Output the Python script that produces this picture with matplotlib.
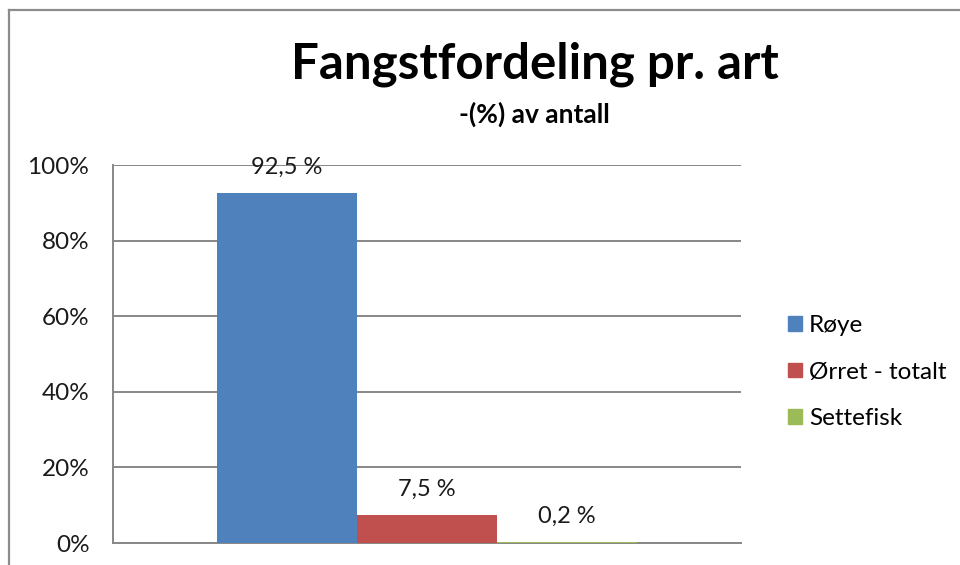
import matplotlib.pyplot as plt
from matplotlib.patches import Rectangle
from matplotlib.lines import Line2D

plt.rcParams['font.family'] = ['Lato', 'DejaVu Sans']

# Data
arter = ['Røye', 'Ørret - totalt', 'Settefisk']
andel = [92.5, 7.5, 0.2]
etiketter = ['92,5 %', '7,5 %', '0,2 %']
farger = ['#4F81BD', '#C0504D', '#9BBB59']
yticks = [0, 20, 40, 60, 80, 100]

fig = plt.figure(figsize=(9.6, 5.65), dpi=100)

# ramme rundt diagrammet
fig.add_artist(Line2D([9/960, 9/960], [0, 1 - 10/565], color='#8c8c8c', lw=1.6))
fig.add_artist(Line2D([9/960, 1], [1 - 10/565, 1 - 10/565], color='#8c8c8c', lw=1.6))

ax = fig.add_axes([113/960, 22/565, 628/960, 378/565])

x = list(range(len(arter)))
ax.bar(x, andel, width=1.0, color=farger, zorder=3)

for xi, v, lab in zip(x, andel, etiketter):
    ax.text(xi, v + 6.8, lab, ha='center', va='center', fontsize=17, color='#1a1a1a')

ax.set_xlim(-1.243, 3.243)
ax.set_ylim(0, 100)
ax.set_yticks(yticks)
ax.set_yticklabels([f'{t}%' for t in yticks], fontsize=17.5, color='#1a1a1a')
ax.set_xticks([])
ax.tick_params(axis='y', length=0, pad=17)
ax.grid(axis='y', color='#878787', lw=1.4, zorder=0)
ax.set_axisbelow(True)
for s in ['top', 'right']:
    ax.spines[s].set_visible(False)
ax.spines['left'].set_color('#878787')
ax.spines['left'].set_linewidth(1.4)
ax.spines['bottom'].set_color('#878787')
ax.spines['bottom'].set_linewidth(1.4)

# tittel
fig.text(535/960, 1 - 64/565, 'Fangstfordeling pr. art', ha='center', va='center',
         fontsize=35.5, fontweight='bold')
fig.text(534/960, 1 - 114/565, '-(%) av antall', ha='center', va='center',
         fontsize=19, fontweight='bold')

# forklaring
handles = [Rectangle((0, 0), 1, 1, color=c) for c in farger]
fig.legend(handles, arter, loc='center left', bbox_to_anchor=(776/960, 1 - 372/565),
           frameon=False, fontsize=17.5, handlelength=0.55, handleheight=0.55,
           handletextpad=0.3, labelspacing=1.05, borderpad=0)

fig.savefig('out.png', dpi=100)
